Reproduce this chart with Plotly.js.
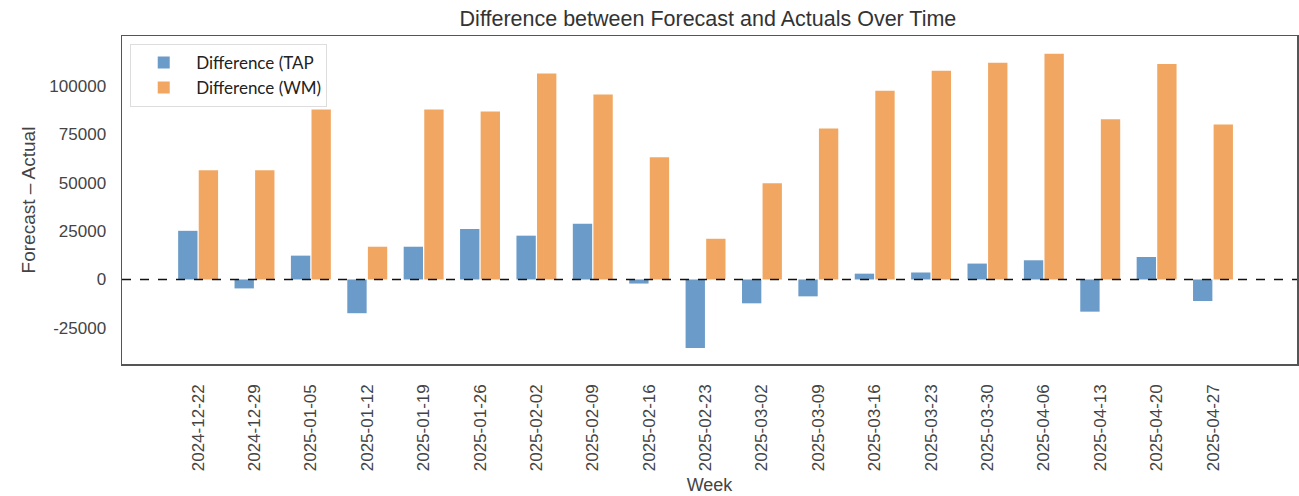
<!DOCTYPE html>
<html>
<head>
<meta charset="utf-8">
<script src="https://cdn.plot.ly/plotly-3.0.1.min.js"></script>
<style>html,body{margin:0;padding:0;background:#fff;}#chart{width:1299px;height:496px;}</style>
</head>
<body>
<div id="chart"></div>
<script>
const weeks = ["2024-12-22","2024-12-29","2025-01-05","2025-01-12","2025-01-19","2025-01-26","2025-02-02","2025-02-09","2025-02-16","2025-02-23","2025-03-02","2025-03-09","2025-03-16","2025-03-23","2025-03-30","2025-04-06","2025-04-13","2025-04-20","2025-04-27"];
const diffTAP = [25100,-4600,12300,-17400,16900,26100,22600,28700,-2100,-35400,-12300,-8700,3000,3600,8200,9900,-16600,11600,-11100];
const diffWM = [56400,56400,87700,16900,87700,86700,106200,95400,63100,21000,49700,77900,97400,107700,111800,116400,82600,111100,80000];
const seriesNames = ["Difference (TAP", "Difference (WM)"];
const tickVals = [-25000,0,25000,50000,75000,100000];

const traces = [
  {type:'bar', name:seriesNames[0], x:weeks, y:diffTAP, marker:{color:'#6b9bc9'}},
  {type:'bar', name:seriesNames[1], x:weeks, y:diffWM, marker:{color:'#f1a762'}}
];

const layout = {
  width:1299, height:496,
  margin:{l:122, r:2, t:36, b:132},
  paper_bgcolor:'#fff', plot_bgcolor:'#fff',
  barmode:'group', bargap:0.27, bargroupgap:0.06,
  font:{family:'Liberation Sans, Arial, sans-serif', color:'#444', size:17},
  title:{text:'Difference between Forecast and Actuals Over Time', x:0.545, xanchor:'center', y:0.962, yanchor:'middle', font:{size:21.5, color:'#333'}},
  showlegend:true,
  legend:{x:0.007, y:0.976, xanchor:'left', yanchor:'top', bgcolor:'#fff', bordercolor:'#ddd', borderwidth:1,
          font:{family:'Lato, sans-serif', size:17, color:'#222'}, itemwidth:55, tracegroupgap:0},
  xaxis:{type:'category', range:[-1.35,19.49], showgrid:false, zeroline:false,
         showline:true, mirror:true, linecolor:'#555', linewidth:1.5,
         tickangle:-90, ticks:'outside', ticklen:12, tickcolor:'rgba(0,0,0,0)',
         tickfont:{size:17, color:'#444'},
         title:{text:'Week', font:{size:18, color:'#444'}, standoff:8}},
  yaxis:{range:[-43600,125600], tickvals:tickVals, ticktext:tickVals.map(String), showgrid:false, zeroline:false,
         showline:true, mirror:true, linecolor:'#555', linewidth:1.5,
         ticks:'outside', ticklen:11, tickcolor:'rgba(0,0,0,0)',
         tickfont:{size:17, color:'#444'},
         title:{text:'Forecast – Actual', font:{size:19, color:'#444'}, standoff:8}},
  shapes:[{type:'line', xref:'paper', x0:0, x1:1, yref:'y', y0:0, y1:0, line:{color:'#111', width:1.5, dash:'dash'}, layer:'above'}]
};

Plotly.newPlot('chart', traces, layout, {displayModeBar:false, staticPlot:true});
</script>
</body>
</html>
